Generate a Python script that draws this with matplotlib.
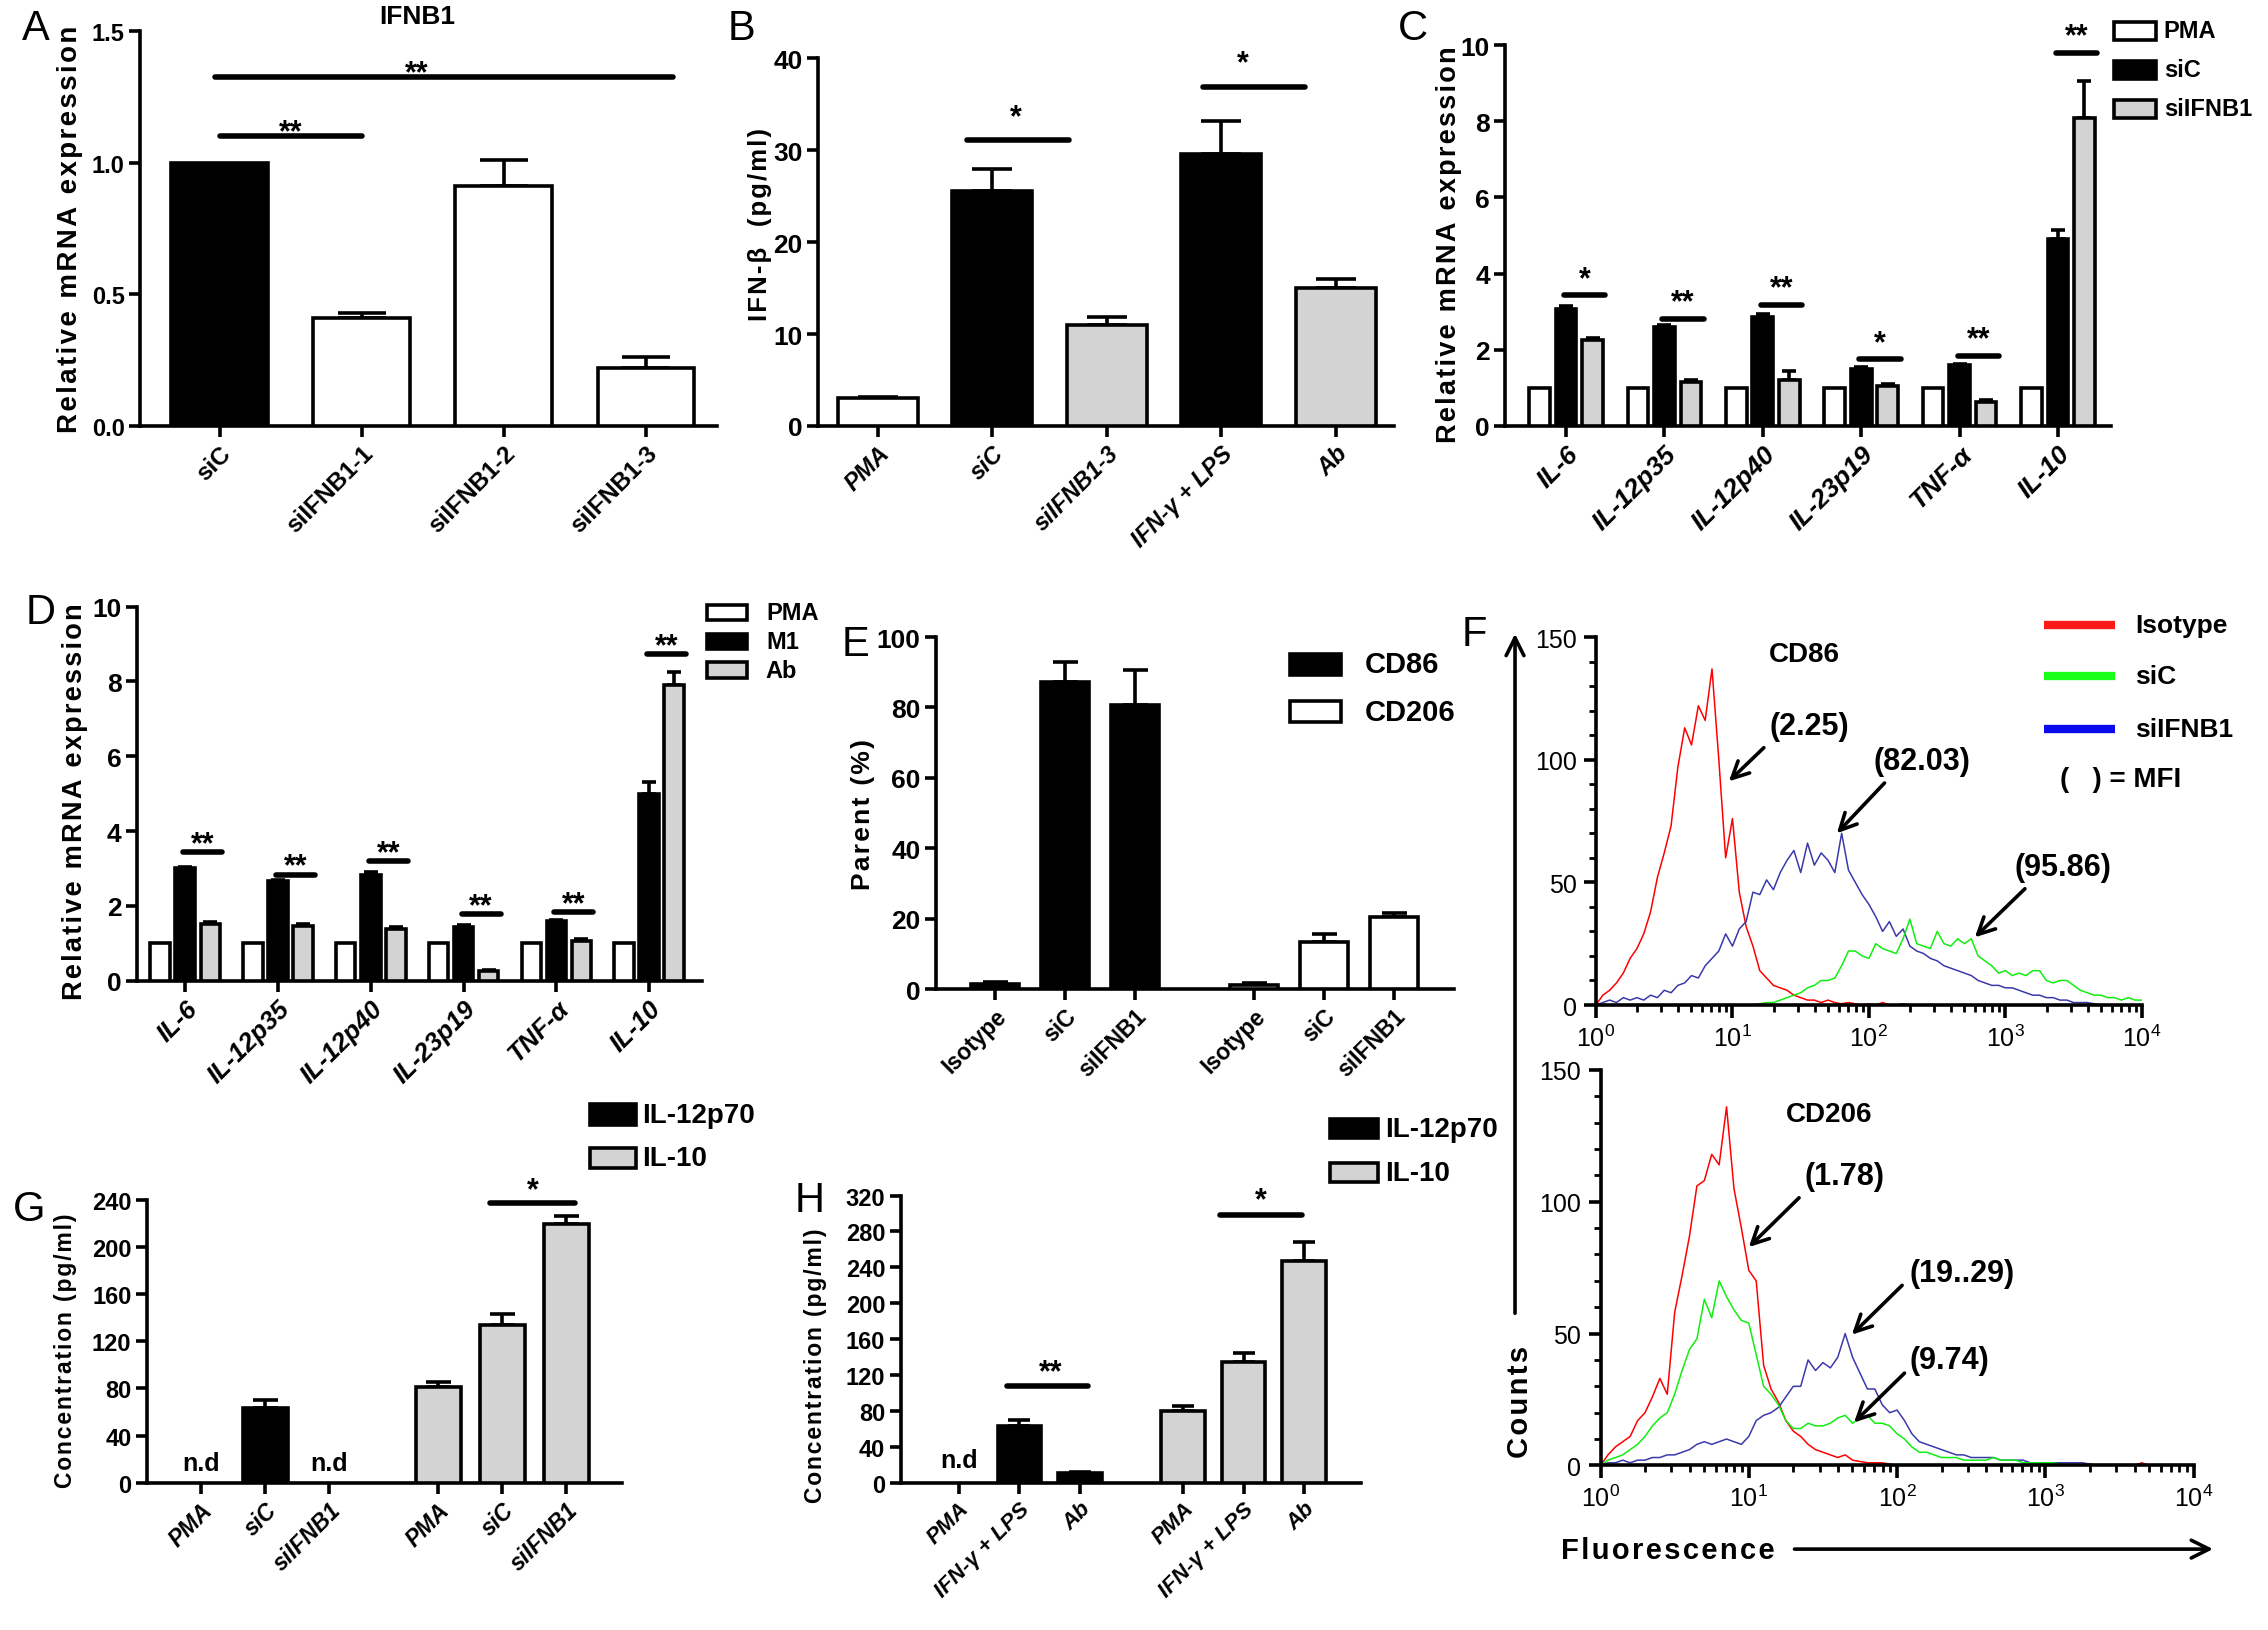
import matplotlib
matplotlib.use("Agg")
import matplotlib.pyplot as plt
import numpy as np
from matplotlib import font_manager
from matplotlib.ft2font import FT2Font
from matplotlib.patches import Rectangle, FancyArrowPatch
from matplotlib.ticker import MultipleLocator, LogLocator, NullFormatter

plt.rcParams["font.family"] = ["Liberation Sans", "DejaVu Sans"]
plt.rcParams["mathtext.fontset"] = "custom"
plt.rcParams["mathtext.rm"] = "Liberation Sans"
plt.rcParams["mathtext.it"] = "Liberation Sans:italic"
plt.rcParams["mathtext.bf"] = "Liberation Sans:bold"


def _has_glyph(family, code):
    path = font_manager.findfont(font_manager.FontProperties(family=family, weight="bold"))
    return FT2Font(path).get_char_index(code) != 0


# the axis titles of the original are letter-spaced
HAIR = "\u200a" if (_has_glyph("Liberation Sans", 0x200A)
                    or _has_glyph("DejaVu Sans", 0x200A)) else ""


def spaced(s):
    return HAIR.join(s)


# ---------------- data ----------------
# A: IFNB1 knock-down
A_LABELS = ["siC", "siIFNB1-1", "siIFNB1-2", "siIFNB1-3"]
A_MEAN = [1.0, 0.41, 0.91, 0.22]
A_SEM = [0.0, 0.02, 0.10, 0.04]

# B: IFN-beta ELISA
B_LABELS = ["PMA", "siC", "siIFNB1-3", "IFN-γ + LPS", "Ab"]
B_MEAN = [3.0, 25.6, 11.0, 29.6, 15.0]
B_SEM = [0.2, 2.3, 0.9, 3.6, 1.0]

# C / D: cytokine mRNA
GENES = ["IL-6", "IL-12p35", "IL-12p40", "IL-23p19", "TNF-α", "IL-10"]
C_PMA = [1.0, 1.0, 1.0, 1.0, 1.0, 1.0]
C_SIC = [3.08, 2.60, 2.85, 1.50, 1.60, 4.90]
C_SIC_SEM = [0.08, 0.04, 0.10, 0.04, 0.04, 0.25]
C_SIIFNB1 = [2.25, 1.15, 1.20, 1.05, 0.62, 8.10]
C_SIIFNB1_SEM = [0.05, 0.05, 0.25, 0.05, 0.05, 0.95]
C_SIG_Y = [3.43, 2.82, 3.19, 1.75, 1.84, 9.80]
C_SIG = ["*", "**", "**", "*", "**", "**"]

D_PMA = [1.0, 1.0, 1.0, 1.0, 1.0, 1.0]
D_M1 = [3.00, 2.65, 2.83, 1.42, 1.60, 5.00]
D_M1_SEM = [0.05, 0.03, 0.07, 0.06, 0.03, 0.30]
D_AB = [1.52, 1.47, 1.38, 0.25, 1.07, 7.90]
D_AB_SEM = [0.05, 0.05, 0.04, 0.03, 0.03, 0.35]
D_SIG_Y = [3.44, 2.83, 3.19, 1.78, 1.83, 8.73]
D_SIG = ["**", "**", "**", "**", "**", "**"]

# E: flow cytometry percentages
E_LABELS = ["Isotype", "siC", "siIFNB1", "Isotype", "siC", "siIFNB1"]
E_CD86 = [1.5, 87.3, 80.7]
E_CD86_SEM = [0.5, 5.6, 10.0]
E_CD206 = [1.3, 13.5, 20.6]
E_CD206_SEM = [0.5, 2.2, 0.9]

# G / H: ELISA, None = n.d
G_LABELS = ["PMA", "siC", "siIFNB1", "PMA", "siC", "siIFNB1"]
G_IL12 = [None, 63.8, None]
G_IL12_SEM = [0, 6.0, 0]
G_IL10 = [81.0, 134.0, 219.5]
G_IL10_SEM = [4.8, 9.6, 6.8]

H_LABELS = ["PMA", "IFN-γ + LPS", "Ab", "PMA", "IFN-γ + LPS", "Ab"]
H_IL12 = [None, 63.3, 10.7]
H_IL12_SEM = [0, 6.4, 1.5]
H_IL10 = [80.4, 134.0, 246.7]
H_IL10_SEM = [4.6, 10.0, 22.0]

# F: histograms, counts per log10 fluorescence channel
LOG_CHANNEL = [0.00, 0.05, 0.10, 0.15, 0.20, 0.25, 0.30, 0.35, 0.40, 0.45,
               0.50, 0.55, 0.60, 0.65, 0.70, 0.75, 0.80, 0.85, 0.90, 0.95,
               1.00, 1.05, 1.10, 1.15, 1.20, 1.25, 1.30, 1.35, 1.40, 1.45,
               1.50, 1.55, 1.60, 1.65, 1.70, 1.75, 1.80, 1.85, 1.90, 1.95,
               2.00, 2.05, 2.10, 2.15, 2.20, 2.25, 2.30, 2.35, 2.40, 2.45,
               2.50, 2.55, 2.60, 2.65, 2.70, 2.75, 2.80, 2.85, 2.90, 2.95,
               3.00, 3.05, 3.10, 3.15, 3.20, 3.25, 3.30, 3.35, 3.40, 3.45,
               3.50, 3.55, 3.60, 3.65, 3.70, 3.75, 3.80, 3.85, 3.90, 3.95,
               4.00]
CD86_ISOTYPE = [0, 4, 6, 9, 13, 19, 23, 29, 38, 52,
                62, 73, 97, 113, 106, 122, 116, 137, 100, 60,
                76, 46, 32, 24, 14, 11, 8, 7, 6, 4,
                3, 2, 2, 1, 2, 1, 0.5, 1, 0.5, 0,
                0.5, 0, 1, 0, 0, 0.5, 0, 0, 0, 0,
                0, 0, 0, 0, 0, 0, 0, 0, 0, 0,
                0, 0, 0, 0, 0, 0, 0, 0, 0, 0,
                0, 0, 0, 0, 0, 0, 0, 0, 0, 0,
                0]
CD86_SIC = [0, 0, 0, 0, 0, 0, 0, 0, 0, 0,
            0, 0, 0, 0, 0, 0, 0, 0, 0, 0,
            0, 0, 0, 0, 0.5, 1, 1, 2, 3, 4,
            5, 7, 8, 10, 10, 11, 16, 22, 22, 20,
            19, 25, 23, 22, 21, 27, 35, 25, 24, 23,
            30, 25, 24, 27, 25, 27, 20, 18, 16, 13,
            14, 12, 13, 12, 14, 14, 10, 9, 10, 10,
            8, 6, 5, 4, 4, 3, 3, 2, 3, 2,
            2]
CD86_SIIFNB1 = [0, 1, 2, 1, 3, 2, 3, 2, 4, 3,
                6, 5, 8, 9, 12, 11, 16, 19, 22, 29,
                24, 31, 34, 46, 45, 51, 47, 54, 59, 63,
                54, 66, 57, 62, 59, 54, 70, 55, 50, 45,
                41, 36, 30, 34, 28, 31, 24, 22, 21, 19,
                18, 16, 15, 14, 13, 12, 10, 9, 8, 8,
                7, 7, 6, 5, 4, 4, 3, 3, 2, 2,
                1, 1, 1, 0.5, 0, 0, 0, 0, 0, 0,
                0]
CD206_ISOTYPE = [0, 4, 7, 9, 11, 17, 20, 26, 33, 27,
                 58, 72, 87, 106, 108, 118, 114, 136, 105, 90,
                 74, 70, 38, 29, 24, 17, 13, 11, 8, 6,
                 5, 4, 3, 4, 2, 1.5, 1, 1, 1, 0.5,
                 0, 0, 0, 0, 0, 0, 0, 0, 0, 0,
                 0, 0, 0, 0, 0, 0, 0, 0, 0, 0,
                 0, 0, 0, 0, 0, 0, 0, 0, 0, 0,
                 0, 0, 0, 1, 0, 0, 0, 0, 0, 0,
                 0]
CD206_SIC = [0, 2, 3, 4, 6, 8, 11, 15, 18, 20,
             27, 36, 44, 48, 63, 56, 70, 64, 59, 55,
             54, 42, 30, 27, 23, 17, 14, 14, 16, 15,
             15, 16, 18, 19, 16, 18, 19, 16, 16, 15,
             12, 10, 7, 5, 5, 4, 3, 3, 3, 2,
             2, 2, 2, 3, 2, 2, 2, 1, 1, 1,
             1, 1, 0.5, 0, 0, 0, 0, 0, 0, 0,
             0, 0, 0, 0, 0, 0, 0, 0, 0, 0,
             0]
CD206_SIIFNB1 = [0, 1, 1, 2, 1, 2, 2, 3, 3, 4,
                 4, 5, 6, 8, 9, 8, 9, 10, 9, 8,
                 11, 17, 19, 20, 22, 26, 30, 30, 40, 36,
                 39, 37, 41, 50, 41, 35, 29, 29, 23, 20,
                 21, 17, 12, 9, 8, 7, 6, 5, 4, 4,
                 3, 3, 3, 3, 2, 2, 2, 2, 1, 1,
                 1, 1, 1, 1, 1, 1, 0.5, 0, 0, 0,
                 0, 0, 0, 0, 0, 0, 0, 0, 0, 0,
                 0]

BLACK, WHITE, GREY = "#000000", "#ffffff", "#d3d3d3"
RED, GREEN, BLUE = "#ff0000", "#11ee11", "#3a3aaa"
LW = 2.6

fig = plt.figure(figsize=(22.68, 16.31), dpi=100)


def setup(ax, xlim, ylim, yticks, ylabel, label_x, fmt="{:g}", ysize=19,
          tsize=18, label_y=0.5):
    ax.set_xlim(*xlim)
    ax.set_ylim(*ylim)
    for s in ("top", "right"):
        ax.spines[s].set_visible(False)
    for s in ("left", "bottom"):
        ax.spines[s].set_linewidth(LW)
    ax.set_yticks(yticks)
    ax.set_yticklabels([fmt.format(t) for t in yticks], fontsize=tsize,
                       fontweight="bold")
    ax.tick_params(width=LW, length=8, pad=3)
    ax.text(label_x, label_y, spaced(ylabel), transform=ax.transAxes, rotation=90,
            ha="center", va="center", fontsize=ysize, fontweight="bold")


def bars(ax, pos, vals, sems, colors, width, capsize):
    for p, v, s, c in zip(pos, vals, sems, colors):
        if v is None:
            continue
        if s:
            ax.errorbar(p, v, yerr=[[0], [s]], fmt="none", ecolor="black",
                        elinewidth=LW, capsize=capsize, capthick=LW, zorder=2)
        ax.bar(p, v, width, color=c, edgecolor="black", linewidth=LW, zorder=3)


def xlabels(ax, pos, labels, italic=False, size=17):
    ax.set_xticks(pos)
    ax.set_xticklabels(labels, rotation=45, ha="right", va="top",
                       rotation_mode="anchor", fontsize=size, fontweight="bold",
                       fontstyle="italic" if italic else "normal")


def sig(ax, x0, x1, y, stars, off, xstar=None):
    ax.plot([x0, x1], [y, y], color="black", lw=4, solid_capstyle="round",
            clip_on=False, zorder=4)
    xs = (x0 + x1) / 2 if xstar is None else xstar
    ax.annotate(stars, xy=(xs, y), xytext=(0, off), textcoords="offset points",
                ha="center", va="baseline", fontsize=22, fontweight="bold",
                annotation_clip=False)


def box_legend(x, ys, w, h, gap, colors, labels, size):
    for y, c, t in zip(ys, colors, labels):
        fig.add_artist(Rectangle((x, y - h / 2), w, h, transform=fig.transFigure,
                                 facecolor=c, edgecolor="black", linewidth=LW))
        fig.text(x + w + gap, y, t, ha="left", va="center", fontsize=size,
                 fontweight="bold")


def letter(x, y, t):
    fig.text(x, y, t, ha="center", va="center", fontsize=30)


# ---------------- A ----------------
ax = fig.add_axes([0.0617, 0.7382, 0.2544, 0.2423])
pos = np.arange(len(A_LABELS))
setup(ax, (-0.56, 3.5), (0, 1.5), [0, 0.5, 1.0, 1.5], "Relative mRNA expression",
      -0.122, "{:.1f}", ysize=20, tsize=17)
bars(ax, pos, A_MEAN, A_SEM, [BLACK, WHITE, WHITE, WHITE], 0.68, 17)
xlabels(ax, pos, A_LABELS, size=17.5)
sig(ax, 0.0, 1.0, 1.10, "**", -3)
sig(ax, -0.03, 3.19, 1.324, "**", -3, xstar=1.39)
ax.text(0.48, 1.038, "IFNB1", transform=ax.transAxes, ha="center", va="center",
        fontsize=19, fontweight="bold")
letter(0.016, 0.982, "A")

# ---------------- B ----------------
ax = fig.add_axes([0.3607, 0.7382, 0.2540, 0.2255])
pos = np.arange(len(B_LABELS))
setup(ax, (-0.52, 4.51), (0, 40), [0, 10, 20, 30, 40], "IFN-β  (pg/ml)", -0.100,
      ysize=18.5, label_y=0.55, tsize=19)
bars(ax, pos, B_MEAN, B_SEM, [WHITE, BLACK, GREY, BLACK, GREY], 0.70, 14.5)
xlabels(ax, pos, B_LABELS, italic=True, size=17)
sig(ax, 0.78, 1.67, 31.1, "*", 11, xstar=1.21)
sig(ax, 2.84, 3.73, 36.9, "*", 11, xstar=3.19)
letter(0.327, 0.982, "B")

# ---------------- C ----------------
ax = fig.add_axes([0.6636, 0.7382, 0.2672, 0.2335])
pos = np.arange(len(GENES))
setup(ax, (-0.62, 5.54), (0, 10), [0, 2, 4, 6, 8, 10], "Relative mRNA expression",
      -0.092, ysize=19.5, label_y=0.48, tsize=19)
bars(ax, pos - 0.27, C_PMA, [0] * 6, [WHITE] * 6, 0.21, 5)
bars(ax, pos, C_SIC, C_SIC_SEM, [BLACK] * 6, 0.21, 5)
bars(ax, pos + 0.27, C_SIIFNB1, C_SIIFNB1_SEM, [GREY] * 6, 0.21, 5)
xlabels(ax, pos, GENES, italic=True, size=19)
for g, (y, s) in enumerate(zip(C_SIG_Y, C_SIG)):
    sig(ax, g - 0.02, g + 0.40, y, s, 6)
box_legend(0.932, [0.9805, 0.9567, 0.9327], 0.0185, 0.011, 0.0035,
           [WHITE, BLACK, GREY], ["PMA", "siC", "siIFNB1"], 17)
letter(0.623, 0.982, "C")

# ---------------- D ----------------
ax = fig.add_axes([0.0604, 0.3982, 0.2491, 0.2292])
setup(ax, (-0.52, 5.57), (0, 10), [0, 2, 4, 6, 8, 10], "Relative mRNA expression",
      -0.110, ysize=19.5, label_y=0.48, tsize=19)
bars(ax, pos - 0.27, D_PMA, [0] * 6, [WHITE] * 6, 0.21, 5)
bars(ax, pos, D_M1, D_M1_SEM, [BLACK] * 6, 0.21, 5)
bars(ax, pos + 0.27, D_AB, D_AB_SEM, [GREY] * 6, 0.21, 5)
xlabels(ax, pos, GENES, italic=True, size=18.5)
for g, (y, s) in enumerate(zip(D_SIG_Y, D_SIG)):
    sig(ax, g - 0.02, g + 0.40, y, s, 0)
box_legend(0.3117, [0.6239, 0.6062, 0.5885], 0.0177, 0.0095, 0.0083,
           [WHITE, BLACK, GREY], ["PMA", "M1", "Ab"], 17)
letter(0.018, 0.624, "D")

# ---------------- E ----------------
ax = fig.add_axes([0.4127, 0.3929, 0.2284, 0.2159])
pos6 = np.array([0, 1, 2, 3.7, 4.7, 5.7])
setup(ax, (-0.84, 6.56), (0, 100), [0, 20, 40, 60, 80, 100], "Parent (%)", -0.140,
      tsize=19)
bars(ax, pos6, E_CD86 + E_CD206, E_CD86_SEM + E_CD206_SEM,
     [BLACK] * 3 + [WHITE] * 3, 0.69, 9)
xlabels(ax, pos6, E_LABELS, size=16.5)
box_legend(0.5688, [0.592, 0.563], 0.0225, 0.0126, 0.0106,
           [BLACK, WHITE], ["CD86", "CD206"], 21)
letter(0.377, 0.6045, "E")


# ---------------- F ----------------
def hist_axes(rect, curves):
    ax = fig.add_axes(rect)
    x = 10 ** np.array(LOG_CHANNEL)
    for y, c in curves:
        ax.plot(x, y, color=c, lw=1.1)
    ax.set_xscale("log")
    ax.set_xlim(1, 1e4)
    ax.set_ylim(0, 150)
    for s in ("top", "right"):
        ax.spines[s].set_visible(False)
    for s in ("left", "bottom"):
        ax.spines[s].set_linewidth(LW)
    ax.set_yticks([0, 50, 100, 150])
    ax.set_yticklabels(["0", "50", "100", "150"], fontsize=18)
    ax.yaxis.set_minor_locator(MultipleLocator(10))
    ax.set_xticks([1, 10, 100, 1000, 10000])
    ax.set_xticklabels([r"$\mathregular{10^{%d}}$" % k for k in range(5)], fontsize=18)
    ax.xaxis.set_minor_locator(LogLocator(base=10, subs=np.arange(2, 10), numticks=20))
    ax.xaxis.set_minor_formatter(NullFormatter())
    ax.tick_params(which="major", width=LW, length=9, pad=5)
    ax.tick_params(which="minor", width=2.0, length=5)
    return ax


def note(ax, text, txt_xy, tail, head):
    ax.text(10 ** txt_xy[0], txt_xy[1], text, ha="center", va="center",
            fontsize=22, fontweight="bold")
    ax.annotate("", xy=(10 ** head[0], head[1]), xytext=(10 ** tail[0], tail[1]),
                arrowprops=dict(arrowstyle="->", lw=2.6, color="black",
                                mutation_scale=30, shrinkA=0, shrinkB=0),
                annotation_clip=False)


ax = hist_axes([0.7037, 0.3832, 0.2407, 0.2256],
               [(CD86_ISOTYPE, RED), (CD86_SIIFNB1, BLUE), (CD86_SIC, GREEN)])
ax.text(10 ** 1.526, 143, "CD86", ha="center", va="center", fontsize=20,
        fontweight="bold")
note(ax, "(2.25)", (1.56, 113.8), (1.23, 104.9), (0.974, 91.2))
note(ax, "(82.03)", (2.39, 99.4), (2.114, 90.5), (1.765, 70))
note(ax, "(95.86)", (3.42, 56.3), (3.143, 47.4), (2.776, 27.6))
for yy, c, t in zip([155, 134, 112.4], ["#ff1a1a", "#1aff1a", "#0a0aee"],
                    ["Isotype", "siC", "siIFNB1"]):
    ax.plot([10 ** 3.28, 10 ** 3.80], [yy, yy], color=c, lw=6, clip_on=False,
            solid_capstyle="butt")
    ax.text(10 ** 3.95, yy, t, ha="left", va="center", fontsize=19,
            fontweight="bold")
ax.text(10 ** 3.40, 92, "(   ) = MFI", ha="left", va="center", fontsize=20,
        fontweight="bold")

ax = hist_axes([0.7057, 0.1009, 0.2615, 0.2425],
               [(CD206_ISOTYPE, RED), (CD206_SIIFNB1, BLUE), (CD206_SIC, GREEN)])
ax.text(10 ** 1.542, 133.4, "CD206", ha="center", va="center", fontsize=20,
        fontweight="bold")
note(ax, "(1.78)", (1.644, 109.8), (1.339, 101.5), (1.0, 82.8))
note(ax, "(19..29)", (2.44, 73.1), (2.034, 68.3), (1.695, 49.6))
note(ax, "(9.74)", (2.356, 39.9), (2.05, 35), (1.71, 16.3))

fig.add_artist(FancyArrowPatch(
    (0.668, 0.1925), (0.668, 0.6125), transform=fig.transFigure,
    arrowstyle="->", lw=2.6, color="black", mutation_scale=32))
fig.text(0.670, 0.1407, spaced("Counts"), rotation=90, ha="center", va="center",
         fontsize=21, fontweight="bold")
fig.add_artist(FancyArrowPatch(
    (0.790, 0.0496), (0.977, 0.0496), transform=fig.transFigure,
    arrowstyle="->", lw=2.6, color="black", mutation_scale=32))
fig.text(0.7354, 0.0490, spaced("Fluorescence"), ha="center", va="center",
         fontsize=21, fontweight="bold")
letter(0.650, 0.6106, "F")

# ---------------- G ----------------
ax = fig.add_axes([0.0647, 0.0903, 0.2095, 0.1734])
setup(ax, (-0.85, 6.57), (0, 240), [0, 40, 80, 120, 160, 200, 240],
      "Concentration (pg/ml)", -0.172, ysize=16.5, tsize=17, label_y=0.47)
g_vals = G_IL12 + G_IL10
bars(ax, pos6, g_vals, G_IL12_SEM + G_IL10_SEM, [BLACK] * 3 + [GREY] * 3, 0.70, 9)
for p, v in zip(pos6, g_vals):
    if v is None:
        ax.text(p, 17, "n.d", ha="center", va="center", fontsize=18,
                fontweight="bold")
xlabels(ax, pos6, G_LABELS, italic=True, size=16.5)
sig(ax, 4.51, 5.84, 237.5, "*", 3, xstar=5.18)
box_legend(0.260, [0.316, 0.2894], 0.0204, 0.0128, 0.0026,
           [BLACK, GREY], ["IL-12p70", "IL-10"], 20)
letter(0.013, 0.2584, "G")

# ---------------- H ----------------
ax = fig.add_axes([0.3971, 0.0903, 0.2030, 0.1761])
setup(ax, (-0.96, 6.64), (0, 320), [0, 40, 80, 120, 160, 200, 240, 280, 320],
      "Concentration (pg/ml)", -0.185, ysize=16.5, tsize=17, label_y=0.41)
h_vals = H_IL12 + H_IL10
bars(ax, pos6, h_vals, H_IL12_SEM + H_IL10_SEM, [BLACK] * 3 + [GREY] * 3, 0.72, 8)
for p, v in zip(pos6, h_vals):
    if v is None:
        ax.text(p, 25, "n.d", ha="center", va="center", fontsize=18,
                fontweight="bold")
xlabels(ax, pos6, H_LABELS, italic=True, size=16)
sig(ax, 0.80, 2.14, 107.3, "**", 4.5, xstar=1.51)
sig(ax, 4.31, 5.66, 298.5, "*", 4.5, xstar=4.98)
box_legend(0.5862, [0.3072, 0.2805], 0.0214, 0.0117, 0.0031,
           [BLACK, GREY], ["IL-12p70", "IL-10"], 20)
letter(0.357, 0.2635, "H")

fig.savefig("out.png", dpi=100)
